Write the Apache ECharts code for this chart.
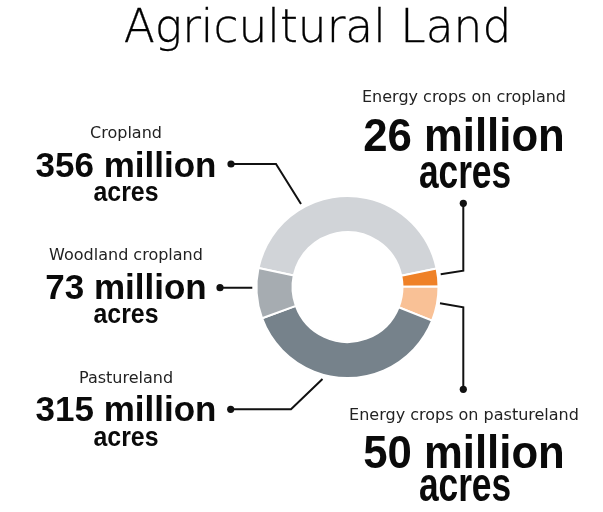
<!DOCTYPE html>
<html>
<head>
<meta charset="utf-8">
<title>Agricultural Land</title>
<script src="https://cdn.jsdelivr.net/npm/echarts@6/dist/echarts.min.js"></script>
<style>
  html, body { margin: 0; padding: 0; background: #ffffff; }
  #chart { width: 603px; height: 512px; }
</style>
</head>
<body>
<div id="chart"></div>
<script>
// Land categories, clockwise from the upper-left edge of the ring
const categories = [
  'Cropland',
  'Energy crops on cropland',
  'Energy crops on pastureland',
  'Pastureland',
  'Woodland cropland'
];
// Area of each category, in millions of acres
const acresMillions = [356, 26, 50, 315, 73];
const unitWord = 'million';
const unitLine = 'acres';
const chartTitle = 'Agricultural Land';

const sliceColors = ['#d1d4d8', '#ef8127', '#f9c196', '#76828b', '#a6acb1'];

// Callout placement for each category: text column centre, line centres
// (name, value, unit), and the leader line (first point carries the dot).
const calloutLayout = [
  { side: 'left',  x: 126, ys: [133.4, 167.3, 193.3], leader: [[231, 164], [276, 164], [301, 204]] },
  { side: 'right', x: 464, ys: [98, 137.9, 174.8],    leader: [[463.3, 203.3], [463.3, 270.7], [440.7, 274.3]] },
  { side: 'right', x: 464, ys: [415.8, 455.3, 488.1], leader: [[463.3, 389.3], [463.3, 307.3], [440, 303.3]] },
  { side: 'left',  x: 126, ys: [378.7, 411.8, 438.3], leader: [[230.7, 409.3], [291, 409.3], [322.5, 379]] },
  { side: 'left',  x: 126, ys: [255.7, 289.6, 315.3], leader: [[220, 287.7], [236, 287.7], [252.3, 287.7]] }
];

const textStyles = {
  left: {
    name: { font: '16px "DejaVu Sans"', fill: '#222222' },
    value: { font: 'bold 35px "Liberation Sans"', fill: '#0a0a0a', scaleX: 1 },
    unit: { font: 'bold 27px "Liberation Sans"', fill: '#0a0a0a', scaleX: 0.92 }
  },
  right: {
    name: { font: '16px "DejaVu Sans"', fill: '#222222' },
    value: { font: 'bold 46px "Liberation Sans"', fill: '#0a0a0a', scaleX: 0.95 },
    unit: { font: 'bold 48px "Liberation Sans"', fill: '#0a0a0a', scaleX: 0.735 }
  }
};

function textEl(x, y, text, st) {
  const style = {
    text: text,
    font: st.font,
    fill: st.fill,
    align: 'center',
    verticalAlign: 'middle'
  };
  if (st.stroke) {
    style.stroke = st.stroke;
    style.lineWidth = st.lineWidth;
  }
  return {
    type: 'text',
    x: x,
    y: y,
    scaleX: st.scaleX || 1,
    silent: true,
    style: style
  };
}

const graphics = [
  textEl(317.5, 30, chartTitle, { font: '200 45.5px "DejaVu Sans"', fill: '#000000', stroke: '#000000', lineWidth: 0.3 })
];

categories.forEach(function (name, i) {
  const lay = calloutLayout[i];
  const st = textStyles[lay.side];
  graphics.push(textEl(lay.x, lay.ys[0], name, st.name));
  graphics.push(textEl(lay.x, lay.ys[1], acresMillions[i] + ' ' + unitWord, st.value));
  graphics.push(textEl(lay.side === 'right' ? lay.x + 1 : lay.x, lay.ys[2], unitLine, st.unit));
  graphics.push({
    type: 'polyline',
    silent: true,
    shape: { points: lay.leader },
    style: { stroke: '#111111', lineWidth: 2, fill: null }
  });
  graphics.push({
    type: 'circle',
    silent: true,
    shape: { cx: lay.leader[0][0], cy: lay.leader[0][1], r: 3.6 },
    style: { fill: '#111111' }
  });
});

const chart = echarts.init(document.getElementById('chart'), null, { renderer: 'canvas' });
chart.setOption({
  animation: false,
  backgroundColor: '#ffffff',
  graphic: graphics,
  series: [{
    type: 'pie',
    center: [347.5, 287],
    radius: [55, 91],
    startAngle: 168,
    clockwise: true,
    silent: true,
    label: { show: false },
    labelLine: { show: false },
    itemStyle: { borderColor: '#ffffff', borderWidth: 2 },
    data: categories.map(function (name, i) {
      return { name: name, value: acresMillions[i], itemStyle: { color: sliceColors[i] } };
    })
  }]
});
</script>
</body>
</html>
